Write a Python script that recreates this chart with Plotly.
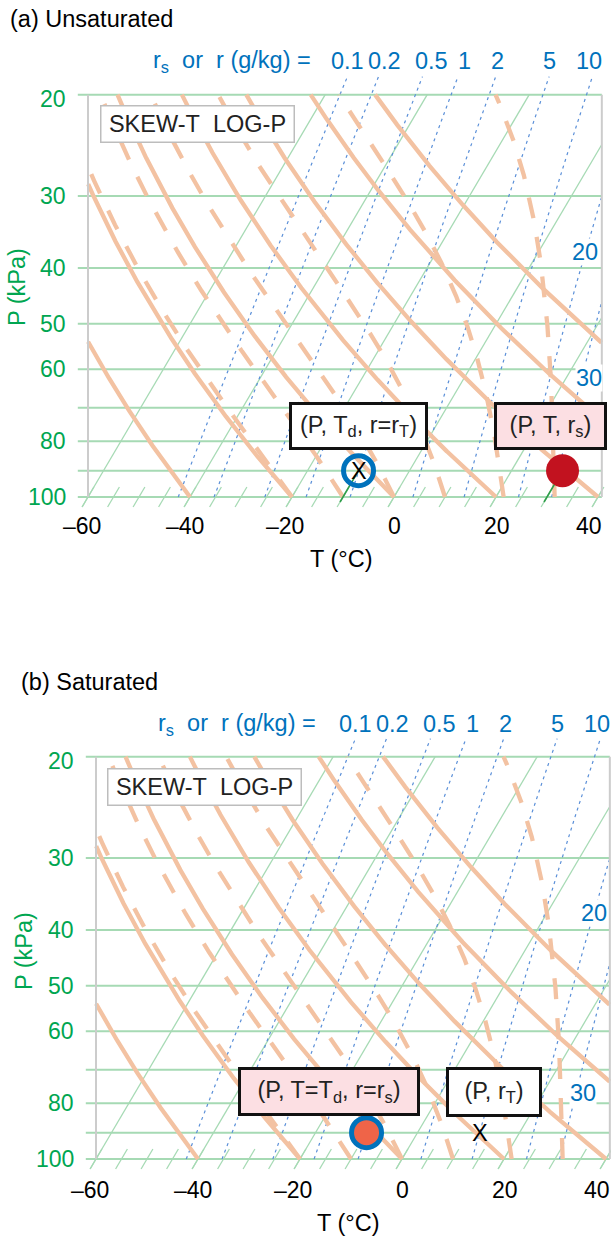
import numpy as np
import plotly.graph_objects as go

W, H = 611, 1237

# ---------------- data ----------------
ISOBARS = [20, 30, 40, 50, 60, 70, 80, 90, 100]          # kPa
P_TICKS = [20, 30, 40, 50, 60, 80, 100]                  # labelled isobars, kPa
T_TICKS = [-60, -40, -20, 0, 20, 40]                     # °C
T_TICK_TEXT = ["\u201360", "\u201340", "\u201320", "0", "20", "40"]
ISOTHERMS = [-60, -40, -20, 0, 20, 40]                   # °C
ISOTHERM_STUBS = [-60, -55, -50, -45, -40, -35, -30, -25, -20, -15, -10,
                  -5, 0, 5, 10, 15, 20, 25, 30, 35, 40]  # °C
DRY_THETA = [-40, -20, 0, 20, 40, 60, 80]                # potential temperature, °C
MOIST_THETA_W = [-20, -10, 0, 10, 21.5, 31.5]            # wet-bulb pot. temperature, °C (as drawn)
MIX_R = [0.1, 0.2, 0.5, 1, 2, 5, 10, 20, 30]             # g/kg
MIX_TOP_TEXT = ["0.1", "0.2", "0.5", "1", "2", "5", "10"]
MIX_SIDE_R = [20, 30]
MIX_SIDE_TEXT = ["20", "30"]

# plotted air-parcel states
A_P, A_T, A_TD = 90, 30, -10       # (a) unsaturated: P (kPa), T, Td (°C)
B_P, B_T, B_RT = 90, -10, 10       # (b) saturated: P, T=Td (°C), r_T (g/kg)

# ---------------- style / geometry ----------------
FONT = "Liberation Sans, Arial, sans-serif"
FS = 23.5
GREEN_TXT = "#00a651"
BLUE_TXT = "#0072bc"
GRID_GREEN = "#a6dab4"
ORANGE = "#f3c2a2"
MIX_BLUE = "#5a8fd8"
BORDER_GRAY = "#cccccc"

RD, CP, LV, EPS, K0 = 287.0, 1004.0, 2.5e6, 0.622, 273.15
SKEW = 28.9          # °C of skew per unit ln(100/P)
SX = 5.1             # px per °C
SY = 250.0           # px per unit ln(P)
T_LEFT, T_RIGHT = -60.0, 40.75
T_TICKLEFT = -62.0

PANELS = [
    dict(xa="x", ya="y", x60=88, y100=497, top=0, bottom=620,
         title="(a) Unsaturated", title_xy=(8, 19), rlab_xy=(151, 61), mixlab_y=61,
         ptitle_xy=(17, 287), ttitle_xy=(341, 559), tick_y=526, side_px=[252, 378],
         skewbox=(100, 105, 295, 143)),
    dict(xa="x2", ya="y2", x60=96, y100=1159, top=620, bottom=1237,
         title="(b) Saturated", title_xy=(19, 682), rlab_xy=(156, 724), mixlab_y=724,
         ptitle_xy=(24, 951), ttitle_xy=(348, 1223), tick_y=1190, side_px=[913, 1093],
         skewbox=(107, 768, 302, 806)),
]
MIX_TOP_SHIFT = [0, 6, 9, 7, 2, 0, -3]
MIX_SIDE_SHIFT = [0, 7]
T_TICK_SHIFT = [-6, -5, -7, 0, 1, -9]
P_TICK_YSHIFT = [-4, 0, 0, 0, 0, 0, 0]


def es(Tk):
    return 0.6113 * np.exp(5423.0 * (1.0 / K0 - 1.0 / Tk))


def rsat(Tk, P):
    e = es(Tk)
    return EPS * e / (P - e)


def skew(T, P):
    return T + SKEW * np.log(100.0 / np.asarray(P, float))


def dew_point(r_gkg, P):
    r = r_gkg / 1000.0
    e = r * np.asarray(P, float) / (EPS + r)
    return 1.0 / (1.0 / K0 - np.log(e / 0.6113) / 5423.0) - K0


def dry_adiabat(theta_c, P):
    return (theta_c + K0) * (np.asarray(P, float) / 100.0) ** (RD / CP) - K0


def moist_adiabat(thw_c, P):
    lnp = np.log(P)
    T = np.empty(len(P))
    T[0] = thw_c + K0

    def f(Tk, lp):
        r = rsat(Tk, np.exp(lp))
        return (RD * Tk + LV * r) / (CP + LV * LV * r * EPS / (RD * Tk * Tk))

    for i in range(1, len(P)):
        h = lnp[i] - lnp[i - 1]
        t, lp = T[i - 1], lnp[i - 1]
        k1 = f(t, lp)
        k2 = f(t + h * k1 / 2, lp + h / 2)
        k3 = f(t + h * k2 / 2, lp + h / 2)
        k4 = f(t + h * k3, lp + h)
        T[i] = t + h * (k1 + 2 * k2 + 2 * k3 + k4) / 6
    return T - K0


def clip(xs, lo=T_LEFT, hi=T_RIGHT):
    xs = np.asarray(xs, float)
    return np.where((xs >= lo - 1e-9) & (xs <= hi + 1e-9), xs, np.nan)


def p_at(px, pan):
    return 100.0 * np.exp(-(pan["y100"] - px) / SY)


P_CURVE = 100.0 * np.exp(-np.linspace(0, np.log(5.0), 900))
MOIST_T = {thw: moist_adiabat(thw, P_CURVE) for thw in MOIST_THETA_W}

fig = go.Figure()


def line(x, p, pan, **kw):
    fig.add_trace(go.Scatter(x=list(np.asarray(x, float)), y=list(np.asarray(p, float)),
                             mode="lines", xaxis=pan["xa"], yaxis=pan["ya"],
                             hoverinfo="skip", line=kw, connectgaps=False))


def ann(text, x, y, xref, yref, size=FS, color="black", **kw):
    fig.add_annotation(text=text, x=x, y=y, xref=xref, yref=yref, showarrow=False,
                       font=dict(family=FONT, size=size, color=color), **kw)


for pan in PANELS:
    p_stub_lo = p_at(pan["y100"] + 10, pan)
    p_stub_hi = p_at(pan["y100"] - 10, pan)
    y20 = pan["y100"] - SY * np.log(5.0)
    p_mix_top = p_at(y20 - 18, pan)

    # isobars
    for P in ISOBARS:
        line([T_TICKLEFT, T_RIGHT], [P, P], pan, color=GRID_GREEN, width=2)
    # isotherms
    for T in ISOTHERMS:
        p_top = 20.0
        p_exit = 100.0 * np.exp(-(T_RIGHT - T) / SKEW)
        if p_exit > p_top:
            p_top = p_exit
        ps = [p_stub_lo, p_top]
        line(skew(T, ps), ps, pan, color=GRID_GREEN, width=1.3)
    for T in ISOTHERM_STUBS:
        ps = np.array([p_stub_lo, p_stub_hi])
        xs = skew(T, ps)
        if xs.max() <= T_RIGHT + 0.6:
            line(xs, ps, pan, color=GRID_GREEN, width=1.3)
    # mixing-ratio lines
    p_mix = 100.0 * np.exp(-np.linspace(0, np.log(100.0 / p_mix_top), 300))
    for r in MIX_R:
        xs = clip(skew(dew_point(r, p_mix), p_mix), -1e9, T_RIGHT)
        line(xs, p_mix, pan, color=MIX_BLUE, width=1.2, dash="3px,4px")
    # dry adiabats
    for th in DRY_THETA:
        xs = clip(skew(dry_adiabat(th, P_CURVE), P_CURVE))
        line(xs, P_CURVE, pan, color=ORANGE, width=4.3)
    # moist adiabats
    for thw in MOIST_THETA_W:
        xs = clip(skew(MOIST_T[thw], P_CURVE))
        line(xs, P_CURVE, pan, color=ORANGE, width=4.3, dash="21px,19px")
    # plot borders
    for xb in (T_LEFT, T_RIGHT):
        line([xb, xb], [100, 20], pan, color=BORDER_GRAY, width=2)

    # tick labels
    for P, ys in zip(P_TICKS, P_TICK_YSHIFT):
        ann(str(P), T_LEFT, np.log10(P), pan["xa"], pan["ya"], color=GREEN_TXT,
            xanchor="right", yanchor="middle", xshift=-20, yshift=ys, size=23)
    p_lab = p_at(pan["tick_y"], pan)
    for T, tt, sh in zip(T_TICKS, T_TICK_TEXT, T_TICK_SHIFT):
        ann(tt, T, np.log10(p_lab), pan["xa"], pan["ya"], xanchor="center",
            yanchor="middle", xshift=sh, size=23)
    # mixing ratio labels
    for r, tt, sh in zip(MIX_R, MIX_TOP_TEXT, MIX_TOP_SHIFT):
        xr = float(skew(dew_point(r, p_mix_top), p_mix_top))
        ann(tt, xr, 1 - pan["mixlab_y"] / H, pan["xa"], "paper", color=BLUE_TXT,
            xanchor="center", yanchor="middle", xshift=sh)
    for r, tt, py, sh in zip(MIX_SIDE_R, MIX_SIDE_TEXT, pan["side_px"], MIX_SIDE_SHIFT):
        pp = p_at(py, pan)
        xr = float(skew(dew_point(r, pp), pp))
        ann(tt, xr, np.log10(pp), pan["xa"], pan["ya"], color=BLUE_TXT,
            xanchor="center", yanchor="middle", bgcolor="white", borderpad=0, xshift=sh)

    # titles and axis titles
    tx, ty = pan["title_xy"]
    ann(pan["title"], tx / W, 1 - ty / H, "paper", "paper", xanchor="left", yanchor="middle")
    rx, ry = pan["rlab_xy"]
    ann("r<sub>s</sub>\u00a0 or\u00a0 r (g/kg) =", rx / W, 1 - ry / H, "paper", "paper",
        color=BLUE_TXT, xanchor="left", yanchor="middle")
    px_, py_ = pan["ptitle_xy"]
    ann("P (kPa)", px_ / W, 1 - py_ / H, "paper", "paper", color=GREEN_TXT,
        textangle=-90, xanchor="center", yanchor="middle")
    qx, qy = pan["ttitle_xy"]
    ann("T (\u00b0C)", qx / W, 1 - qy / H, "paper", "paper", xanchor="center", yanchor="middle")
    # SKEW-T LOG-P box
    x0, y0, x1, y1 = pan["skewbox"]
    fig.add_annotation(text="SKEW-T\u00a0 LOG-P", xref="paper", yref="paper", x=x0 / W, y=1 - y0 / H,
                       xanchor="left", yanchor="top", width=x1 - x0 - 3, height=y1 - y0 - 3,
                       borderpad=0, borderwidth=1.5, bordercolor="#bdbdbd", bgcolor="white",
                       showarrow=False, font=dict(family=FONT, size=FS, color="#222222"))


def box(x0, y0, x1, y1, text, bg):
    bw = 3
    fig.add_annotation(text=text, xref="paper", yref="paper", x=x0 / W, y=1 - y0 / H,
                       xanchor="left", yanchor="top", width=x1 - x0 - 2 * bw,
                       height=y1 - y0 - 2 * bw, borderpad=0, borderwidth=bw,
                       bordercolor="#111111", bgcolor=bg, showarrow=False,
                       font=dict(family=FONT, size=FS, color="#222222"))


PINK = "#fcdfe3"
pa, pb = PANELS
# ---- panel (a) states ----
p_seg = p_at(pa["y100"] + 5, pa)
line(skew(A_TD, [p_seg, A_P]), [p_seg, A_P], pa, color="#2f9e4a", width=1.6)
line(skew(A_T, [p_seg, A_P]), [p_seg, A_P], pa, color="#2f9e4a", width=1.6)
fig.add_trace(go.Scatter(x=[float(skew(A_TD, A_P))], y=[A_P], mode="markers", xaxis="x", yaxis="y",
                         hoverinfo="skip",
                         marker=dict(size=30, color="rgba(0,0,0,0)",
                                     line=dict(color=BLUE_TXT, width=5))))
fig.add_trace(go.Scatter(x=[float(skew(A_T, A_P))], y=[A_P], mode="markers", xaxis="x", yaxis="y",
                         hoverinfo="skip", marker=dict(size=33, color="#c2121f")))
ann("X", float(skew(A_TD, A_P)), np.log10(A_P), "x", "y", xanchor="center", yanchor="middle")
box(289, 402, 428, 450, "(P, T<sub>d</sub>, r=r<sub>T</sub>)", "white")
box(494, 402, 607, 450, "(P, T, r<sub>s</sub>)", PINK)

# ---- panel (b) states ----
fig.add_trace(go.Scatter(x=[float(skew(B_T, B_P))], y=[B_P], mode="markers", xaxis="x2", yaxis="y2",
                         hoverinfo="skip",
                         marker=dict(size=30, color="#ef6448",
                                     line=dict(color=BLUE_TXT, width=5))))
xb = float(skew(dew_point(B_RT, B_P), B_P))
ann("X", xb, np.log10(B_P), "x2", "y2", xanchor="center", yanchor="middle")
box(238, 1067, 420, 1116, "(P, T=T<sub>d</sub>, r=r<sub>s</sub>)", PINK)
box(446, 1067, 542, 1117, "(P, r<sub>T</sub>)", "white")

# ---- axes ----
layout_axes = {}
for i, pan in enumerate(PANELS):
    sfx = "" if i == 0 else "2"
    xr = [-60 - pan["x60"] / SX, -60 + (W - pan["x60"]) / SX]
    yr = [np.log10(p_at(pan["bottom"], pan)), np.log10(p_at(pan["top"], pan))]
    dom = [1 - pan["bottom"] / H, 1 - pan["top"] / H]
    layout_axes["xaxis" + sfx] = dict(domain=[0, 1], range=xr, visible=False, fixedrange=True,
                                      anchor="y" + sfx)
    layout_axes["yaxis" + sfx] = dict(domain=dom, range=yr, type="log", visible=False,
                                      fixedrange=True, anchor="x" + sfx)

fig.update_layout(width=W, height=H, margin=dict(l=0, r=0, t=0, b=0, pad=0),
                  showlegend=False, plot_bgcolor="white", paper_bgcolor="white",
                  font=dict(family=FONT), **layout_axes)

fig.write_html("out.html", config={"displayModeBar": False},
               post_script="document.body.style.margin='0px';"
                           "document.body.style.overflow='hidden';")
